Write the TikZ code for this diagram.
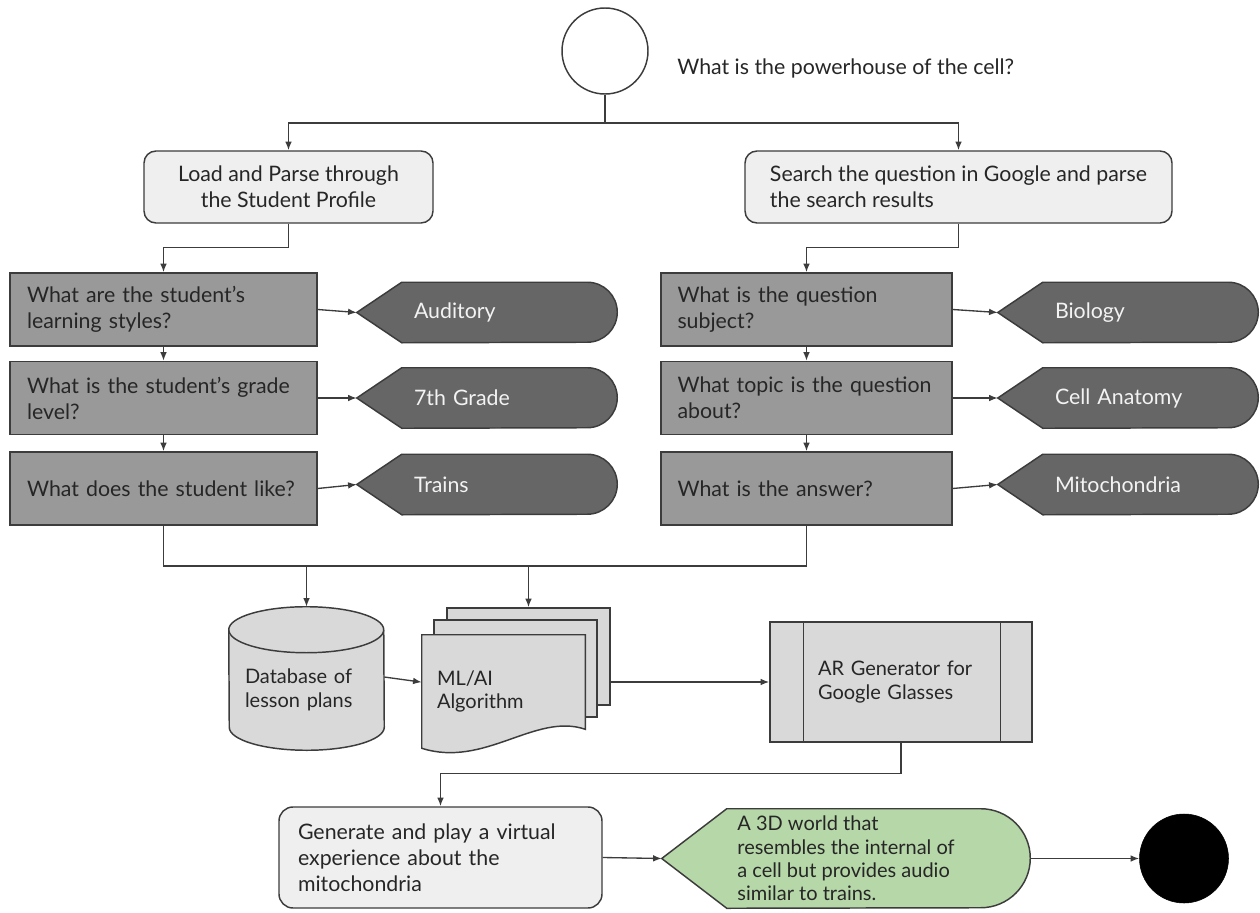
\documentclass[tikz,border=0pt]{standalone}
\usepackage{fontspec}
\setmainfont{Lato}
\usetikzlibrary{calc,arrows.meta,backgrounds}
\definecolor{linec}{HTML}{3C3C3C}
\definecolor{txtc}{HTML}{262626}
\definecolor{qfill}{HTML}{999999}
\definecolor{dispfill}{HTML}{666666}
\definecolor{disptxt}{HTML}{F3F3F3}
\definecolor{lightfill}{HTML}{EFEFEF}
\definecolor{midfill}{HTML}{D9D9D9}
\definecolor{greenfill}{HTML}{B6D7A8}
\newcommand\fsA{\fontsize{16}{19.5}\selectfont}
\newcommand\fsB{\fontsize{15}{17.5}\selectfont}
\newcommand\dispshape[1]{%
  \filldraw[draw=linec, line width=1.1pt, fill=dispfill]
    (#1.west) -- ($(#1.north west)+(45,0)$) -- ($(#1.north east)-(30,0)$)
    arc[start angle=90, end angle=-90, radius=22.5pt]
    -- ($(#1.south west)+(45,0)$) -- cycle;}
\tikzset{
  base/.style={draw=linec, line width=1.1pt, text=txtc, font=\fsA, inner sep=0pt},
  lightbox/.style={base, fill=lightfill, rounded corners=9pt},
  lqbox/.style={base, fill=qfill, minimum width=230.25pt, minimum height=54.75pt,
     align=left, inner xsep=12.75pt, text width=204.75pt},
  rqbox/.style={base, fill=qfill, minimum width=218.25pt, minimum height=54.75pt,
     align=left, inner xsep=12.375pt, text width=193.5pt},
  dispnode/.style={inner sep=0pt, inner xsep=42.75pt, text width=109.5pt,
     minimum width=195pt, minimum height=45pt, align=left, text=disptxt, font=\fsA},
  arr/.style={draw=linec, line width=1pt, -{Latex[length=6.5pt,width=5pt]}},
  plain/.style={draw=linec, line width=1pt},
}
\begin{document}
\begin{tikzpicture}[x=0.75pt, y=0.75pt]
\useasboundingbox (0,0) rectangle (1260,-913);
% start
\node[circle, draw=linec, line width=1.1pt, fill=white, minimum size=64.5pt, inner sep=0pt] (start) at (605,-51) {};
\node[anchor=west, font=\fsA, text=txtc, inner sep=0pt] (qlabel) at (677,-68) {What is the powerhouse of the cell?};
% top boxes
\node[lightbox, minimum width=216.75pt, minimum height=54pt, align=center] (load) at (288.5,-187) {Load and Parse through\\the Student Profile};
\node[lightbox, minimum width=320.25pt, minimum height=54pt, align=left] (search) at (958.5,-187) {Search the question in Google and parse\\the search results};
% left questions
\node[lqbox] (lq1) at (163.5,-309.5) {What are the student’s\\learning styles?};
\node[lqbox] (lq2) at (163.5,-398) {What is the student’s grade\\level?};
\node[lqbox] (lq3) at (163.5,-488.5) {What does the student like?};
% right questions
\node[rqbox] (rq1) at (806.5,-309.5) {What is the question\\subject?};
\node[rqbox] (rq2) at (806.5,-398) {What topic is the question\\about?};
\node[rqbox] (rq3) at (806.5,-488.5) {What is the answer?};
% displays
\node[dispnode] (ld1) at (487,-312.5) {Auditory};
\node[dispnode] (ld2) at (487,-398) {7th Grade};
\node[dispnode] (ld3) at (487,-484.5) {Trains};
\node[dispnode] (rd1) at (1128,-312.5) {Biology};
\node[dispnode] (rd2) at (1128,-398) {Cell Anatomy};
\node[dispnode] (rd3) at (1128,-484.5) {Mitochondria};
% database
\node[inner sep=0pt, inner xsep=12pt, text width=92.25pt, minimum width=116.25pt, minimum height=90pt,
      align=left, font=\fsB, text=txtc] (db) at (306.5,-690) {Database of\\lesson plans};
% ML/AI front page
\node[inner sep=0pt, inner xsep=11.25pt, text width=99.75pt, minimum width=122.25pt, minimum height=84.75pt,
      align=left, font=\fsB, text=txtc] (ml) at (503.5,-691.5) {ML/AI\\Algorithm};
% AR generator
\node[base, font=\fsB, fill=midfill, minimum width=196.5pt, minimum height=90pt, align=left,
      inner xsep=36pt, text width=124.5pt] (ar) at (901,-682) {AR Generator for\\Google Glasses};
\draw[plain, line width=1.1pt] ($(ar.north west)+(34,0)$) -- ($(ar.south west)+(34,0)$);
\draw[plain, line width=1.1pt] ($(ar.north east)-(32,0)$) -- ($(ar.south east)-(32,0)$);
% generate
\node[lightbox, rounded corners=10.5pt, minimum width=242.25pt, minimum height=75.75pt, align=left,
      inner xsep=14.25pt, text width=213.75pt] (gen) at (440.5,-857.5) {Generate and play a virtual\\experience about the\\mitochondria};
% green display
\node[inner sep=0pt, minimum width=276pt, minimum height=74.25pt, align=left, font=\fsB, text=txtc]
  (green) at (846,-858.5) {A 3D world that\\resembles the internal of\\a cell but provides audio\\similar to trains.};
% end
\node[circle, fill=black, draw=black, minimum size=66.75pt, inner sep=0pt] (end) at (1184,-858.5) {};

% background shapes
\begin{scope}[on background layer]
  \dispshape{ld1}\dispshape{ld2}\dispshape{ld3}
  \dispshape{rd1}\dispshape{rd2}\dispshape{rd3}
  % cylinder
  \filldraw[draw=linec, line width=1.1pt, fill=midfill]
    (db.north west) arc[start angle=180, end angle=0, x radius=58.125pt, y radius=17.25pt]
    -- ($(db.south east)+(0,23)$) arc[start angle=0, end angle=-180, x radius=58.125pt, y radius=17.25pt]
    -- cycle;
  \draw[draw=linec, line width=1.1pt] (db.north west) arc[start angle=180, end angle=360, x radius=58.125pt, y radius=17.25pt];
  % pages
  \node[draw=linec, line width=1.1pt, fill=midfill, minimum width=122.25pt, minimum height=72.75pt, inner sep=0pt] (ml3) at (528.5,-656.5) {};
  \node[draw=linec, line width=1.1pt, fill=midfill, minimum width=122.25pt, minimum height=72.75pt, inner sep=0pt] (ml2) at (515.5,-668.5) {};
  \filldraw[draw=linec, line width=1.1pt, fill=midfill]
    (ml.north west) -- (ml.north east) -- ($(ml.south east)+(0,19)$)
    .. controls ($(ml.south east)+(-50,36)$) and ($(ml.south west)+(63,-20)$) .. (ml.south west) -- cycle;
  % green shape
  \filldraw[draw=linec, line width=1.1pt, fill=greenfill]
    (green.west) -- ($(green.north west)+(65,0)$) -- ($(green.north east)-(49.5,0)$)
    arc[start angle=90, end angle=-90, radius=37.125pt]
    -- ($(green.south west)+(65,0)$) -- cycle;
\end{scope}

% connectors
\coordinate (split) at (605,-123);
\draw[plain] (start.south) -- (split);
\draw[arr] (split) -| (load.north);
\draw[arr] (split) -| (search.north);
\draw[arr] (load.south) -- ++(0,-24) -| (lq1.north);
\draw[arr] (search.south) -- ++(0,-24) -| (rq1.north);
\draw[arr] (lq1.south) -- (lq2.north);
\draw[arr] (lq2.south) -- (lq3.north);
\draw[arr] (rq1.south) -- (rq2.north);
\draw[arr] (rq2.south) -- (rq3.north);
\draw[arr] (lq1.east) -- (ld1.west);
\draw[arr] (lq2.east) -- (ld2.west);
\draw[arr] (lq3.east) -- (ld3.west);
\draw[arr] (rq1.east) -- (rd1.west);
\draw[arr] (rq2.east) -- (rd2.west);
\draw[arr] (rq3.east) -- (rd3.west);
\coordinate (bus) at (0,-566);
\draw[plain] (lq3.south) |- (bus -| rq3.south) -- (rq3.south);
\draw[arr] (bus -| db.north) -- ([yshift=17.25pt]db.north);
\draw[arr] (bus -| ml3.north) -- (ml3.north);
\draw[arr] ([yshift=9.75pt]db.east) -- ([yshift=7pt]ml.west);
\draw[arr] (ar.west -| ml3.east) -- (ar.west);
\draw[arr] (ar.south) -- ++(0,-31) -| (gen.north);
\draw[arr] (gen.east) -- (green.west);
\draw[arr] (green.east) -- (end.west);
\end{tikzpicture}
\end{document}
